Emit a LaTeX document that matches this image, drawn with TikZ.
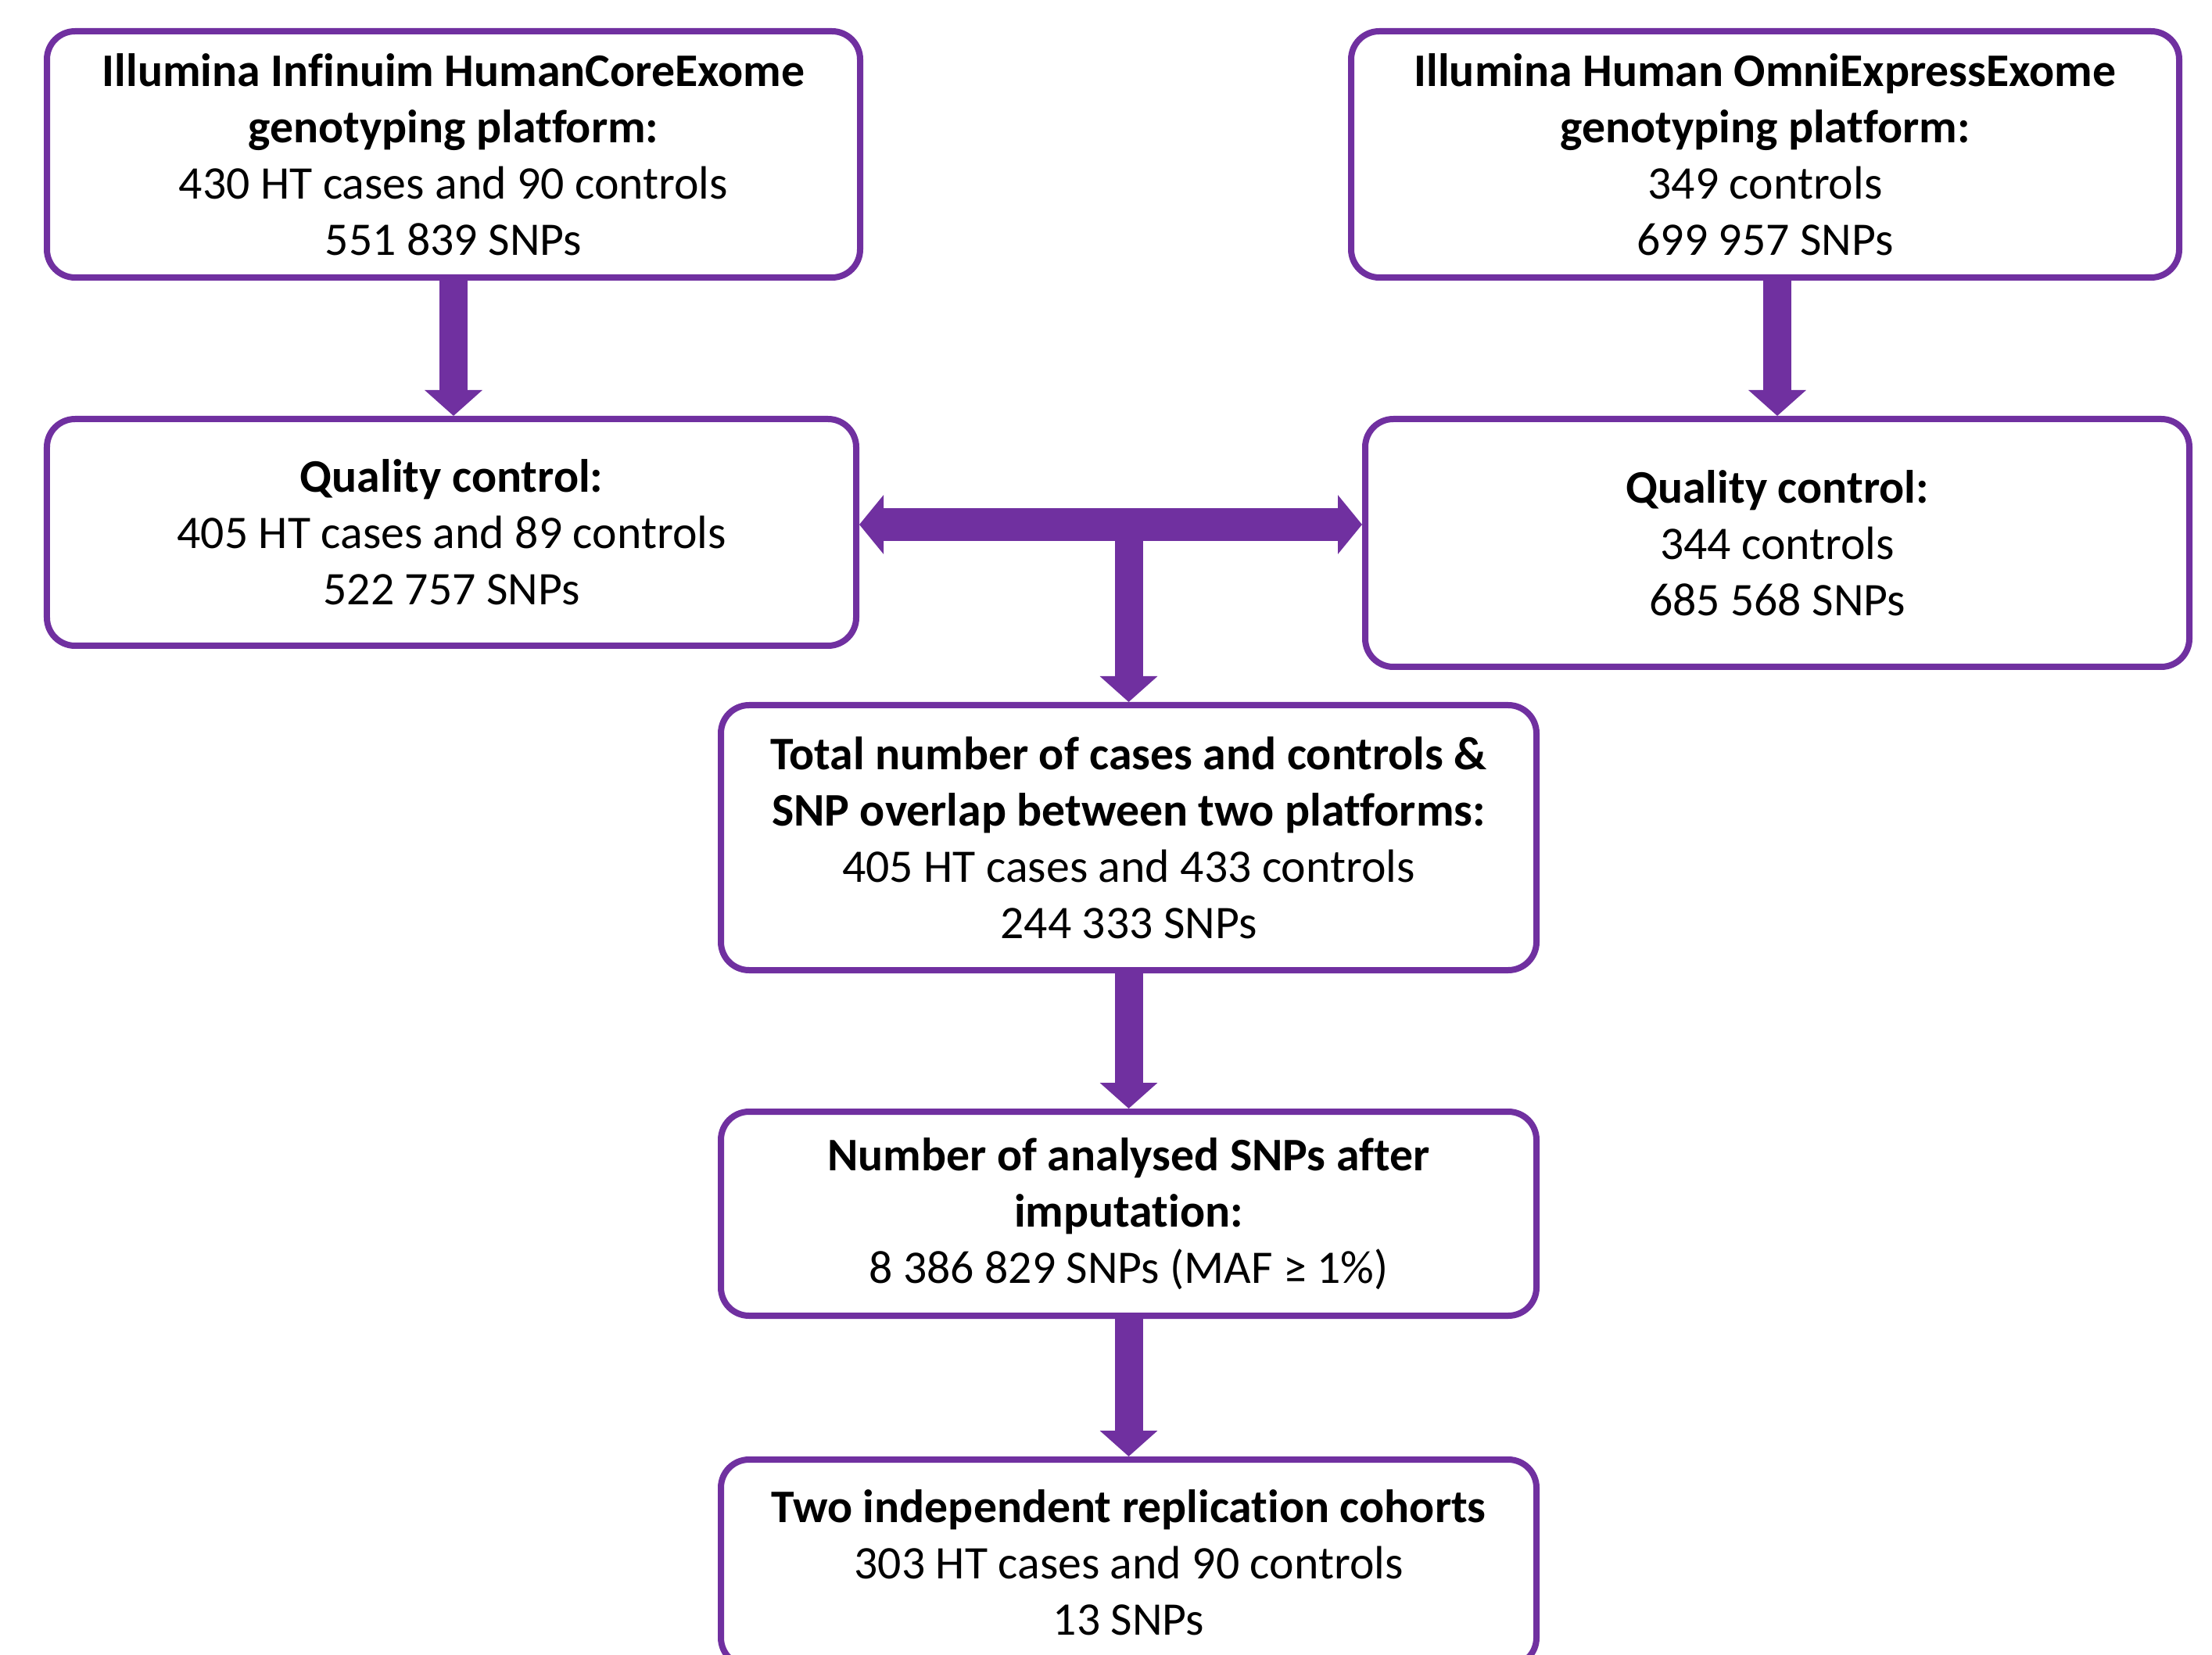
\documentclass[tikz,border=0pt]{standalone}
\usepackage{fontspec}
\setmainfont{Carlito}[Ligatures=NoCommon]
\usetikzlibrary{arrows.meta}
\definecolor{flowpurple}{RGB}{112,48,160}
\tikzset{
 box/.style={draw=flowpurple, line width=0.08cm, rounded corners=0.36cm, align=center, inner sep=0pt, font=\fontsize{17}{20.5}\selectfont},
 flow/.style={flowpurple, line width=0.36cm, -{Triangle[width=0.72cm,length=0.33cm]}},
 flowboth/.style={flowpurple, line width=0.42cm, {Triangle[width=0.74cm,length=0.31cm]}-{Triangle[width=0.74cm,length=0.31cm]}}
}
\begin{document}
\begin{tikzpicture}
\useasboundingbox (0,0) rectangle (28.29,-21.17);
\clip (0,0) rectangle (28.29,-21.17);
% platforms
\node[box, minimum width=10.4cm, minimum height=3.15cm] (coreexome) at (5.80,-1.975) {\textbf{Illumina Infinuim HumanCoreExome}\\ \textbf{genotyping platform:}\\ 430 HT cases and 90 controls\\ 551 839 SNPs};
\node[box, minimum width=10.59cm, minimum height=3.15cm] (omniexpress) at (22.575,-1.975) {\textbf{Illumina Human OmniExpressExome}\\ \textbf{genotyping platform:}\\ 349 controls\\ 699 957 SNPs};
% quality control
\node[box, minimum width=10.35cm, minimum height=2.9cm] (qcleft) at (5.775,-6.81) {\textbf{Quality control:}\\ 405 HT cases and 89 controls\\ 522 757 SNPs};
\node[box, minimum width=10.54cm, minimum height=3.17cm] (qcright) at (22.73,-6.945) {\textbf{Quality control:}\\ 344 controls\\ 685 568 SNPs};
% merged data
\node[box, minimum width=10.43cm, minimum height=3.39cm] (overlap) at (14.435,-10.715) {\textbf{Total number of cases and controls \&}\\ \textbf{SNP overlap between two platforms:}\\ 405 HT cases and 433 controls\\ 244 333 SNPs};
\node[box, minimum width=10.43cm, minimum height=2.61cm] (imputed) at (14.435,-15.525) {\textbf{Number of analysed SNPs after}\\ \textbf{imputation:}\\ 8 386 829 SNPs (MAF ≥ 1\%)};
\node[box, minimum width=10.43cm, minimum height=2.64cm] (replication) at (14.435,-19.99) {\textbf{Two independent replication cohorts}\\ 303 HT cases and 90 controls\\ 13 SNPs};
% arrows
\coordinate (join) at (14.435,-6.71);
\draw[flow] (coreexome.south) -- (coreexome.south |- qcleft.north);
\draw[flow] (qcright.north |- omniexpress.south) -- (qcright.north);
\draw[flowboth] (join -| qcleft.east) -- (join -| qcright.west);
\draw[flow] (join) -- (overlap.north);
\draw[flow] (overlap.south) -- (imputed.north);
\draw[flow] (imputed.south) -- (replication.north);
\end{tikzpicture}
\end{document}
